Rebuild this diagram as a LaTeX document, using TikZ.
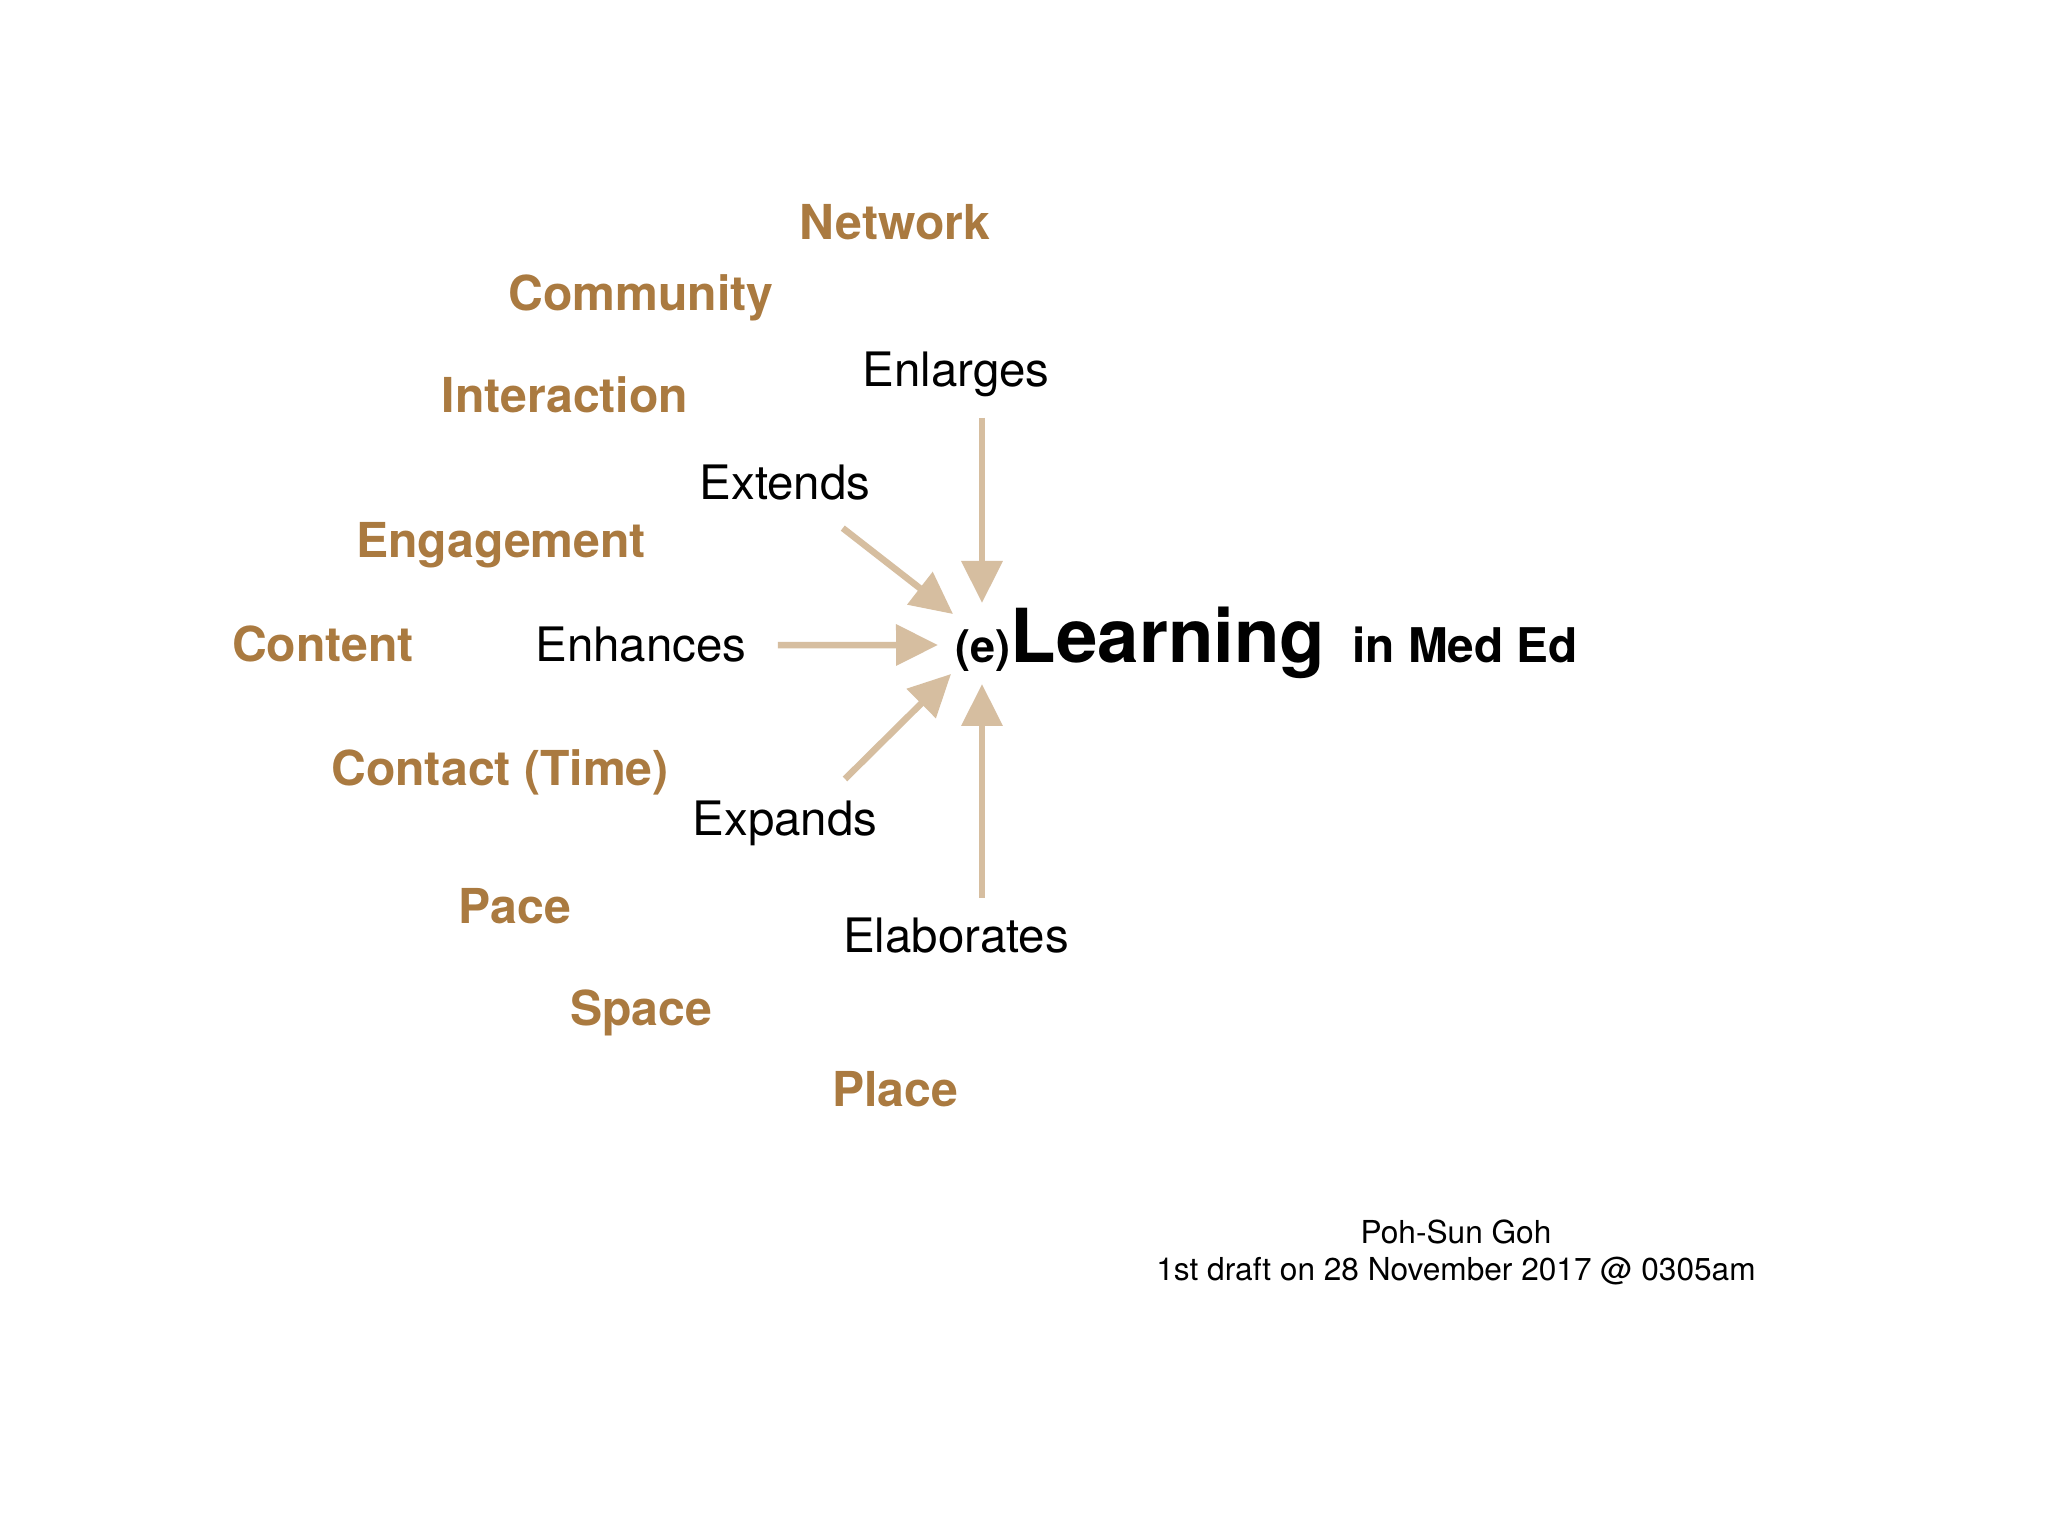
\documentclass[tikz,border=0pt]{standalone}
\usepackage{fontspec}
\setmainfont{TeX Gyre Heros}
\usetikzlibrary{arrows.meta}
\definecolor{ochre}{RGB}{170,122,64}
\definecolor{sand}{RGB}{214,190,160}
\tikzstyle{factor} = [anchor=base, text=ochre, font=\fontsize{13.7}{16}\selectfont\bfseries]
\tikzstyle{verb} = [anchor=base, text=black, font=\fontsize{13.5}{16}\selectfont]
\tikzstyle{arrow} = [draw=sand, line width=0.065cm, -{Triangle[length=0.42cm,width=0.4cm]}]

\begin{document}
\begin{tikzpicture}

        \useasboundingbox [fill=white] (0,0) rectangle (20.48,-15.36);

        % what (e)learning touches
        \node (network) [factor] at (8.95,-2.40) {Network};
        \node (community) [factor] at (6.41,-3.11) {Community};
        \node (interaction) [factor] at (5.65,-4.13) {Interaction};
        \node (engagement) [factor] at (5.01,-5.58) {Engagement};
        \node (content) [factor] at (3.23,-6.62) {Content};
        \node (contact) [factor] at (5.00,-7.85) {Contact (Time)};
        \node (pace) [factor] at (5.15,-9.23) {Pace};
        \node (space) [factor] at (6.41,-10.25) {Space};
        \node (place) [factor] at (8.95,-11.06) {Place};

        % the five verbs
        \node (enlarges) [verb] at (9.56,-3.87) {Enlarges};
        \node (extends) [verb] at (7.85,-4.99) {Extends};
        \node (enhances) [verb] at (6.41,-6.62) {Enhances};
        \node (expands) [verb] at (7.85,-8.36) {Expands};
        \node (elaborates) [verb] at (9.56,-9.52) {Elaborates};

        \node (title) [anchor=base west, inner sep=0pt] at (9.55,-6.63)
            {\bfseries{\fontsize{12.8}{14}\selectfont (e)}{\fontsize{21.2}{24}\selectfont Learning}\hspace{0.27cm}{\fontsize{13.6}{16}\selectfont in Med Ed}};

        \coordinate (tipn) at (9.82,-6.03);
        \coordinate (tipnw) at (9.53,-6.14);
        \coordinate (tipw) at (9.38,-6.45);
        \coordinate (tipsw) at (9.51,-6.74);
        \coordinate (tips) at (9.82,-6.84);

        \draw [arrow] ([yshift=-0.08cm]enlarges.south -| tipn) -- (tipn);
        \draw [arrow] ([xshift=-0.40cm,yshift=-0.16cm]extends.south east) -- (tipnw);
        \draw [arrow] ([xshift=0.19cm]enhances.east) -- (tipw);
        \draw [arrow] ([xshift=0.6cm,yshift=0.10cm]expands.north) -- (tipsw);
        \draw [arrow] ([yshift=0.07cm]elaborates.north -| tips) -- (tips);

        \node (author) [align=center, font=\fontsize{9}{10.5}\selectfont] at (14.56,-12.52)
            {Poh-Sun Goh\\1st draft on 28 November 2017 @ 0305am};

\end{tikzpicture}
\end{document}
